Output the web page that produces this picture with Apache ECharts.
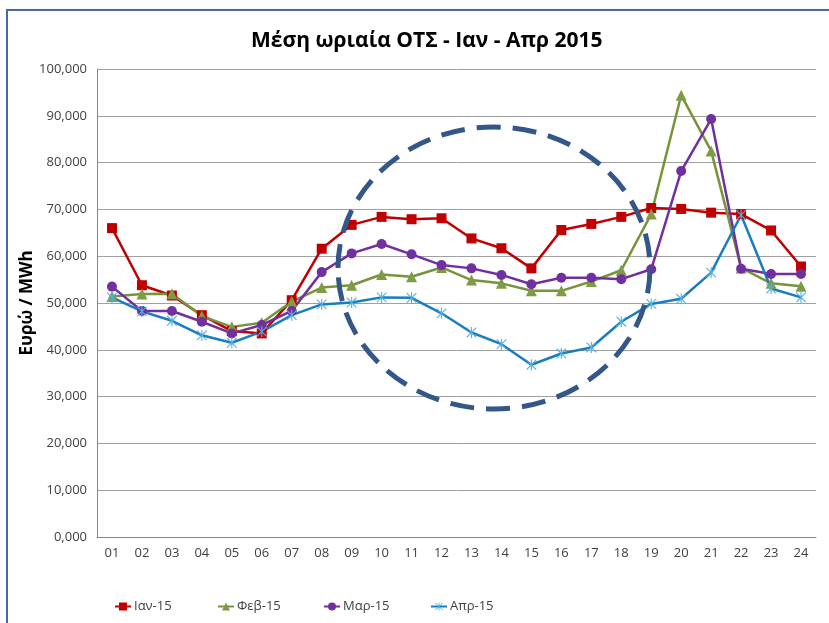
<!DOCTYPE html>
<html>
<head>
<meta charset="utf-8">
<script src="https://cdn.jsdelivr.net/npm/echarts@6/dist/echarts.min.js"></script>
<style>
  html,body{margin:0;padding:0;background:#fff;}
  #chart{width:829px;height:623px;}
</style>
</head>
<body>
<div id="chart"></div>
<script>
// ώρες
var hours = ['01','02','03','04','05','06','07','08','09','10','11','12','13','14','15','16','17','18','19','20','21','22','23','24'];
var seriesNames = ['Ιαν-15','Φεβ-15','Μαρ-15','Απρ-15'];
// μέση ωριαία ΟΤΣ σε €/MWh
var jan = [66.0,53.8,51.6,47.4,44.0,43.5,50.6,61.6,66.7,68.4,67.9,68.1,63.8,61.7,57.4,65.6,66.9,68.4,70.3,70.1,69.3,69.0,65.5,57.8];
var feb = [51.4,51.9,52.0,47.2,44.9,45.8,50.3,53.3,53.8,56.1,55.6,57.6,54.9,54.2,52.6,52.6,54.6,57.0,69.0,94.4,82.5,57.5,54.2,53.6];
var mar = [53.5,48.3,48.3,46.0,43.5,45.3,48.3,56.6,60.6,62.6,60.4,58.1,57.4,56.0,54.0,55.4,55.4,55.1,57.2,78.2,89.3,57.3,56.2,56.2];
var apr = [51.2,48.2,46.2,43.1,41.5,43.9,47.4,49.7,50.1,51.2,51.1,47.8,43.7,41.2,36.8,39.2,40.5,46.0,49.8,50.9,56.5,68.8,53.1,51.2];

// αστερίσκος (σημάδι Excel)
var starPath = 'path://M45,0L55,0L55,100L45,100Z M3,10L10,3L97,90L90,97Z M90,3L97,10L10,97L3,90Z';

var chart = echarts.init(document.getElementById('chart'));

function line(name, data, color, symbol, size, symColor){
  return {
    name: name,
    type: 'line',
    data: data,
    symbol: symbol,
    symbolSize: size,
    symbolKeepAspect: true,
    lineStyle: {color: color, width: 2.5},
    itemStyle: {color: symColor || color, borderWidth: 0},
    emphasis: {disabled: true}
  };
}

var legendLeft = [109, 212, 318, 425];
var legends = seriesNames.map(function(n, i){
  return {
    data: [n],
    left: legendLeft[i],
    top: 595,
    itemWidth: 16,
    itemHeight: 10,
    itemGap: 4,
    textStyle: {fontFamily: 'Open Sans', fontSize: 13, color: '#404040', padding: [0,0,0,-2]}
  };
});

var option = {
  animation: false,
  backgroundColor: '#fff',
  title: {
    text: 'Μέση ωριαία ΟΤΣ - Ιαν - Απρ 2015',
    left: 246,
    top: 26,
    textStyle: {fontFamily: 'Open Sans', fontSize: 21, fontWeight: 'bold', color: '#000'}
  },
  legend: legends,
  grid: {left: 97, right: 13, top: 69, bottom: 86},
  xAxis: {
    type: 'category',
    data: hours,
    boundaryGap: true,
    axisLine: {lineStyle: {color: '#868686'}},
    axisTick: {show: false},
    axisLabel: {margin: 10, fontFamily: 'Open Sans', fontSize: 13, color: '#404040'}
  },
  yAxis: {
    type: 'value',
    min: 0, max: 100, interval: 10,
    name: 'Ευρώ / MWh',
    nameLocation: 'middle',
    nameRotate: 90,
    nameGap: 61,
    nameMoveOverlap: false,
    nameTextStyle: {fontFamily: 'Open Sans', fontSize: 17, fontWeight: 'bold', color: '#000'},
    axisLine: {show: true, lineStyle: {color: '#868686'}},
    axisTick: {show: false},
    splitLine: {lineStyle: {color: '#a0a0a0'}},
    axisLabel: {
      margin: 10, fontFamily: 'Open Sans', fontSize: 13, color: '#404040',
      formatter: function(v){ return v.toFixed(3).replace('.', ','); }
    }
  },
  series: [
    line(seriesNames[0], jan, '#c00000', 'rect', 10),
    line(seriesNames[1], feb, '#77933c', 'triangle', 11, '#7f9c45'),
    line(seriesNames[2], mar, '#7030a0', 'circle', 10),
    line(seriesNames[3], apr, '#1a7dc0', starPath, 11, '#4fb3e0')
  ],
  graphic: [
    {
      type: 'rect',
      shape: {x: 7, y: 10, width: 900, height: 700},
      style: {fill: 'none', stroke: '#4a6a9c', lineWidth: 2},
      silent: true
    },
    {
      // διακεκομμένη έλλειψη επισήμανσης
      type: 'ellipse',
      shape: {cx: 494, cy: 268, rx: 156, ry: 141},
      style: {fill: 'none', stroke: '#34578a', lineWidth: 5, lineDash: [24, 12]},
      z: 100,
      silent: true
    }
  ]
};
chart.setOption(option);
</script>
</body>
</html>
